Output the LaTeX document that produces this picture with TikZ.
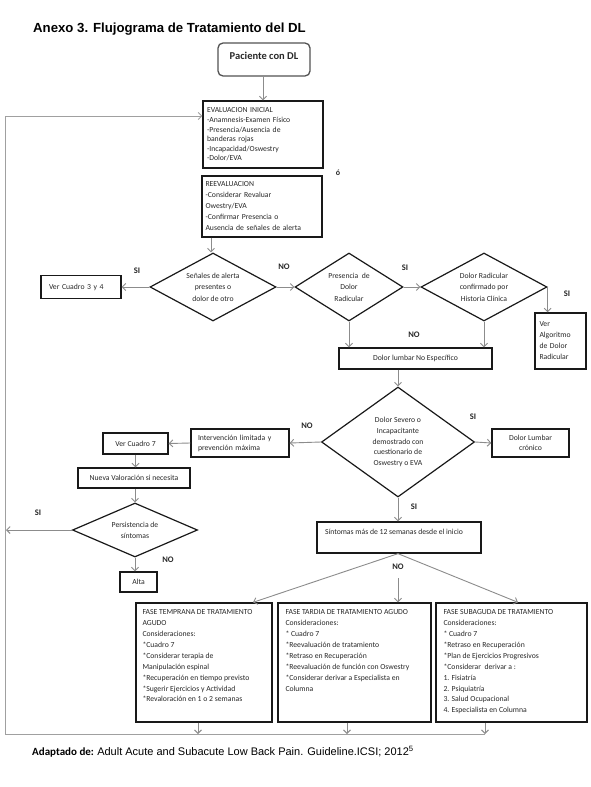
\documentclass[tikz,border=0pt]{standalone}
\usepackage{fontspec}
\setmainfont{Carlito}
\newfontfamily\arialf{Liberation Sans}
\usetikzlibrary{arrows.meta,shapes.geometric}
\definecolor{linec}{RGB}{140,140,140}
\definecolor{loopc}{RGB}{160,160,160}
\definecolor{boxc}{RGB}{25,25,25}
\definecolor{txtc}{RGB}{40,40,40}
\newcommand{\tbox}[3]{\parbox[c][#2][t]{#1}{\raggedright #3}}
\newcommand{\zbl}[1]{\raisebox{0pt}[0pt][0pt]{#1}}
\begin{document}
\begin{tikzpicture}[x=1pt,y=-1pt,
  bx/.style={draw=boxc, line width=1.3pt, inner sep=0pt, text=txtc, font=\fontsize{7.7}{9.6}\selectfont},
  dia/.style={shape=diamond, draw=boxc, line width=1.2pt, inner sep=0pt, text=txtc, align=center},
  arr/.style={draw=linec, line width=0.9pt, -{Straight Barb[length=3.5pt,width=7pt,line width=0.9pt]}},
  lnk/.style={draw=loopc, line width=0.9pt},
  lab/.style={font=\bfseries\fontsize{8.5}{10}\selectfont, text=txtc, inner sep=1pt},
  phase/.style={bx, font=\fontsize{7.7}{10.9}\selectfont, minimum height=119pt}]
\fill[white] (0,0) rectangle (591,787);
\useasboundingbox (0,0) rectangle (591,787);

% title
\node[anchor=base west, inner sep=0pt, font=\arialf\bfseries\fontsize{13.2}{15}\selectfont] (title) at (33,32) {Anexo 3. Flujograma de Tratamiento del DL};

% top
\node[bx, draw=boxc!75, rounded corners=5pt, minimum width=92pt, minimum height=33pt, font=\bfseries\fontsize{10.5}{12}\selectfont] (pac) at (264,59.5) {\zbl{Paciente con DL}};
\node[bx, minimum width=120pt, minimum height=67pt, text width=112pt, align=left] (eval) at (263,134.5)
 {EVALUACION INICIAL\\-Anamnesis-Examen Físico\\-Presencia/Ausencia de\\banderas rojas\\-Incapacidad/Oswestry\\-Dolor/EVA};
\node[font=\bfseries\fontsize{8}{9}\selectfont, text=txtc, inner sep=0pt] (oo) at (338,173) {ó};
\node[bx, font=\fontsize{7.7}{11}\selectfont, minimum width=120pt, minimum height=61pt, text width=113pt, align=left] (reev) at (262,206.5)
 {REEVALUACION\\-Considerar Revaluar\\Owestry/EVA\\-Confirmar Presencia o\\Ausencia de señales de alerta};

% first row of decisions
\node[dia, aspect=2, minimum width=126pt, minimum height=68pt, font=\fontsize{7.7}{11.5}\selectfont] (d1) at (213,287) {Señales de alerta\\presentes o\\dolor de otro};
\node[bx, minimum width=80pt, minimum height=23pt, text width=64pt, align=left] (v34) at (81,287) {Ver Cuadro 3 y 4};
\node[dia, aspect=1.6, minimum width=108pt, minimum height=68pt, font=\fontsize{7.7}{11.5}\selectfont] (d2) at (349,287) {Presencia \ de\\Dolor\\Radicular};
\node[dia, aspect=2, minimum width=126pt, minimum height=68pt, font=\fontsize{7.7}{11.5}\selectfont] (d3) at (484,287) {Dolor Radicular\\confirmado por\\Historia Clínica};
\node[bx, font=\fontsize{7.7}{11}\selectfont, minimum width=51pt, minimum height=56pt, text width=42pt, align=left] (valg) at (560.5,341) {Ver\\Algoritmo\\de Dolor\\Radicular};
\node[bx, minimum width=153pt, minimum height=21pt] (dlne) at (415.5,358.5) {Dolor lumbar No Específico};

% second decision
\node[dia, aspect=1.4, minimum width=153pt, minimum height=110pt, font=\fontsize{7.7}{10.7}\selectfont] (d4) at (398,442) {Dolor Severo o\\Incapacitante\\demostrado con\\cuestionario de\\Oswestry o EVA};
\node[bx, font=\fontsize{7.7}{10}\selectfont, minimum width=77pt, minimum height=28pt, align=center] (dlc) at (530.5,443) {Dolor Lumbar\\crónico};
\node[bx, font=\fontsize{7.7}{10}\selectfont, minimum width=98pt, minimum height=28pt, text width=84pt, align=left] (interv) at (240,443) {Intervención limitada y\\prevención máxima};
\node[bx, minimum width=65pt, minimum height=21pt] (vc7) at (135.5,443.5) {Ver Cuadro 7};
\node[bx, minimum width=112pt, minimum height=20pt] (nval) at (134,478) {Nueva Valoración si necesita};
\node[dia, aspect=2, minimum width=125pt, minimum height=54pt, font=\fontsize{7.7}{11}\selectfont] (d5) at (135,530) {Persistencia de\\síntomas};
\node[bx, minimum width=37pt, minimum height=20pt] (alta) at (138.5,582) {Alta};
\node[bx, minimum width=164pt, minimum height=31pt] (sint) at (399,537.5) {\tbox{148pt}{17pt}{Síntomas más de 12 semanas desde el inicio}};

% phase boxes
\node[phase, minimum width=136pt] (p1) at (204,662.5) {\tbox{123pt}{105.6pt}{FASE TEMPRANA DE TRATAMIENTO\\AGUDO\\Consideraciones:\\{}*Cuadro 7\\{}*Considerar terapia de\\Manipulación espinal\\{}*Recuperación en tiempo previsto\\{}*Sugerir Ejercicios y Actividad\\{}*Revaloración en 1 o 2 semanas}};
\node[phase, minimum width=153pt] (p2) at (354.5,662.5) {\tbox{138pt}{105.6pt}{FASE TARDIA DE TRATAMIENTO AGUDO\\Consideraciones:\\{}* Cuadro 7\\{}*Reevaluación de tratamiento\\{}*Retraso en Recuperación\\{}*Reevaluación de función con Oswestry\\{}*Considerar derivar a Especialista en\\Columna}};
\node[phase, minimum width=151pt] (p3) at (511.5,662.5) {\tbox{136pt}{105.6pt}{FASE SUBAGUDA DE TRATAMIENTO\\Consideraciones:\\{}* Cuadro 7\\{}*Retraso en Recuperación\\{}*Plan de Ejercicios Progresivos\\{}*Considerar \ derivar a :\\1. Fisiatría\\2. Psiquiatría\\3. Salud Ocupacional\\4. Especialista en Columna}};

% labels
\node[lab] (siA) at (137,271) {SI};
\node[lab] (noA) at (284,267) {NO};
\node[lab] (siB) at (405,268) {SI};
\node[lab] (siC) at (567,294) {SI};
\node[lab] (noB) at (414,335) {NO};
\node[lab] (siD) at (473,417) {SI};
\node[lab] (noC) at (307,426) {NO};
\node[lab] (siE) at (414,507) {SI};
\node[lab] (siF) at (38,513) {SI};
\node[lab] (noD) at (168,560) {NO};
\node[lab] (noE) at (398,567) {NO};

% coordinates
\coordinate (tl) at (5,116);
\coordinate (bl) at (5,734);
\coordinate (br) at (485,734);
\coordinate (lft5) at (6,530);
\coordinate (midst) at (398,578);

% connectors
\draw[arr] (pac.south -| eval.north) -- (eval.north);
\draw[arr] ([xshift=-51pt]reev.south) -- ([xshift=-51pt]reev.south |- d1.north);
\draw[arr] (d1.west) -- (v34.east);
\draw[arr] (d1.east) -- (d2.west);
\draw[arr] (d2.east) -- (d3.west);
\draw[arr] (d3.east) -- (d3.east |- valg.north);
\draw[arr] (d2.south) -- (d2.south |- dlne.north);
\draw[arr] (d3.south) -- (d3.south |- dlne.north);
\draw[arr] (dlne.south -| d4.north) -- (d4.north);
\draw[arr] (d4.east) -- (dlc.west);
\draw[arr] (d4.west) -- (interv.east);
\draw[arr] (interv.west) -- (vc7.east);
\draw[arr] (vc7.south) -- (vc7.south |- nval.north);
\draw[arr] (nval.south -| d5.north) -- (d5.north);
\draw[arr] (d5.west) -- (lft5);
\draw[arr] (d5.south) -- (d5.south |- alta.north);
\draw[arr] (d4.south) -- (d4.south |- sint.north);
\draw[arr] (sint.south -| d4.south) -- ([xshift=49pt]p1.north);
\draw[arr] (sint.south -| d4.south) -- ([xshift=6.5pt]p3.north);
\draw[arr] (midst) -- (midst |- p2.north);
\draw[arr] ([xshift=-6pt]p1.south) -- ([xshift=-6pt]p1.south |- bl);
\draw[arr] ([xshift=-7.5pt]p2.south) -- ([xshift=-7.5pt]p2.south |- bl);
\draw[arr] ([xshift=-26.5pt]p3.south) -- ([xshift=-26.5pt]p3.south |- bl);
\draw[lnk] (br) -- (bl) -- (tl);
\draw[arr, draw=loopc] (tl) -- (tl -| eval.west);

% footnote
\node[anchor=base west, inner sep=0pt, font=\fontsize{11}{13}\selectfont, text=black] (foot) at (32,755) {\textbf{Adaptado de:} {\arialf Adult Acute and Subacute Low Back Pain. Guideline.ICSI; 2012\textsuperscript{5}}};
\end{tikzpicture}
\end{document}
